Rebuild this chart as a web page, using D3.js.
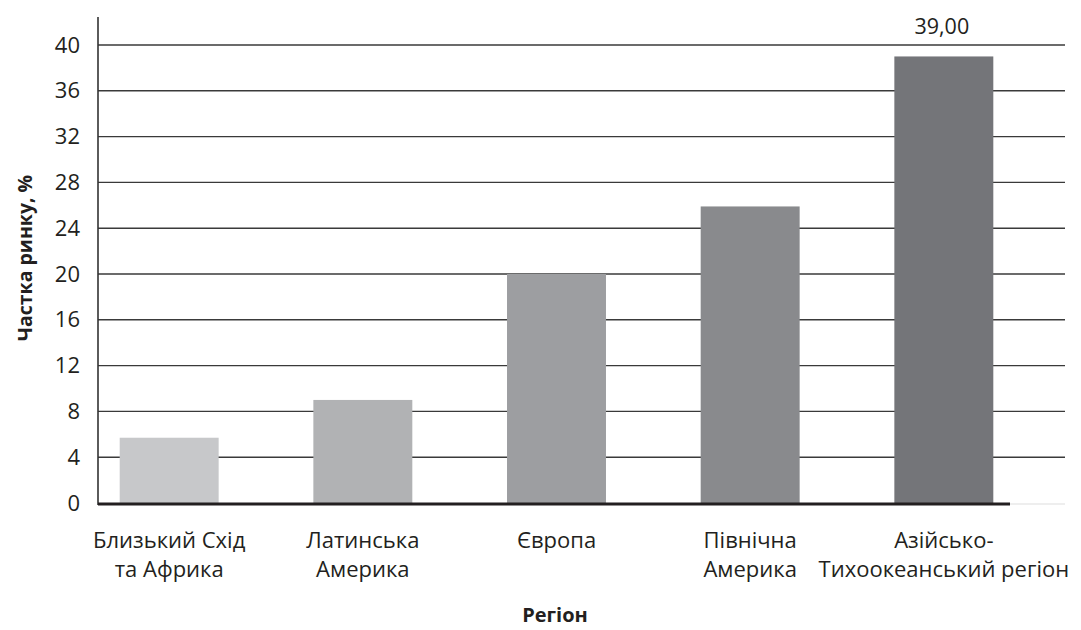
<!DOCTYPE html>
<html>
<head>
<meta charset="utf-8">
<script src="https://cdn.jsdelivr.net/npm/d3@7"></script>
<style>
  body { margin:0; background:#fff; }
  text { font-family:"Open Sans", sans-serif; fill:#231f20; }
</style>
</head>
<body>
<div id="chart"></div>
<script>
// données
var regions = ["Близький Схід|та Африка", "Латинська|Америка", "Європа", "Північна|Америка", "Азійсько-|Тихоокеанський регіон"]
var parts = [5.7, 9.0, 20.0, 25.9, 39.0]
var couleurs = ["#c7c8ca", "#b1b2b4", "#9d9ea1", "#898a8d", "#747579"]
var ticksY = [0, 4, 8, 12, 16, 20, 24, 28, 32, 36, 40]
var etiquettes = ["", "", "", "", "39,00"]

const width = 1081, height = 630
const x0 = 98, x1 = 1015, xGrid = 1065
const yBas = 503, yHaut = 45

let svg = d3.select("#chart").append("svg")
    .attr("width", width).attr("height", height)

let x = d3.scaleBand().domain(regions).range([x0, x1])
    .paddingInner(0.489).paddingOuter(0.112)
let y = d3.scaleLinear().domain([0, 40]).range([yBas, yHaut])

// lignes de grille
svg.append("g")
    .selectAll("line")
    .data(ticksY.filter(d => d > 0))
    .enter().append("line")
    .attr("x1", x0).attr("x2", xGrid)
    .attr("y1", d => y(d)).attr("y2", d => y(d))
    .attr("stroke", "#3a3a3a").attr("stroke-width", 1.4)

// étiquettes de l'axe Y
let axeY = svg.append("g")
    .attr("transform", "translate(" + (x0 - 18) + ",0)")
    .call(d3.axisLeft(y).tickValues(ticksY).tickSize(0).tickPadding(0))
axeY.select(".domain").remove()
axeY.selectAll("text")
    .attr("font-family", "Open Sans").attr("font-size", 22)
    .attr("fill", "#231f20").attr("dy", "0.32em")

// barres
svg.append("g")
    .selectAll("rect")
    .data(parts)
    .enter().append("rect")
    .attr("x", (d, i) => x(regions[i]))
    .attr("width", x.bandwidth())
    .attr("y", d => y(d))
    .attr("height", d => y(0) - y(d))
    .attr("fill", (d, i) => couleurs[i])

// valeur au-dessus de la dernière barre
svg.append("g")
    .selectAll("text")
    .data(parts)
    .enter().append("text")
    .attr("x", (d, i) => x(regions[i]) + x.bandwidth() / 2 - 2)
    .attr("y", d => y(d) - 22)
    .attr("text-anchor", "middle")
    .attr("font-size", 21.5)
    .text((d, i) => etiquettes[i])

// axes
svg.append("line")
    .attr("x1", x0).attr("x2", x0)
    .attr("y1", 17).attr("y2", yBas + 2)
    .attr("stroke", "#333").attr("stroke-width", 1.6)
svg.append("line")
    .attr("x1", x1 - 5).attr("x2", xGrid)
    .attr("y1", yBas + 1).attr("y2", yBas + 1)
    .attr("stroke", "#eeeeee").attr("stroke-width", 2)
svg.append("line")
    .attr("x1", x0).attr("x2", x1 - 5)
    .attr("y1", yBas + 1).attr("y2", yBas + 1)
    .attr("stroke", "#231f20").attr("stroke-width", 3)

// étiquettes des catégories (deux lignes)
let cat = svg.append("g")
    .selectAll("text")
    .data(regions)
    .enter().append("text")
    .attr("text-anchor", "middle")
    .attr("font-size", 22)
    .attr("transform", d => "translate(" + (x(d) + x.bandwidth() / 2) + ",548)")
cat.selectAll("tspan")
    .data(d => d.split("|"))
    .enter().append("tspan")
    .attr("x", 0)
    .attr("y", (d, i) => i * 29)
    .text(d => d)

// titres des axes
svg.append("text")
    .attr("x", 555).attr("y", 622)
    .attr("text-anchor", "middle")
    .attr("font-size", 20).attr("font-weight", "bold")
    .text("Регіон")
svg.append("text")
    .attr("transform", "translate(32,258) rotate(-90)")
    .attr("text-anchor", "middle")
    .attr("font-size", 19.5).attr("font-weight", "bold")
    .text("Частка ринку, %")
</script>
</body>
</html>
